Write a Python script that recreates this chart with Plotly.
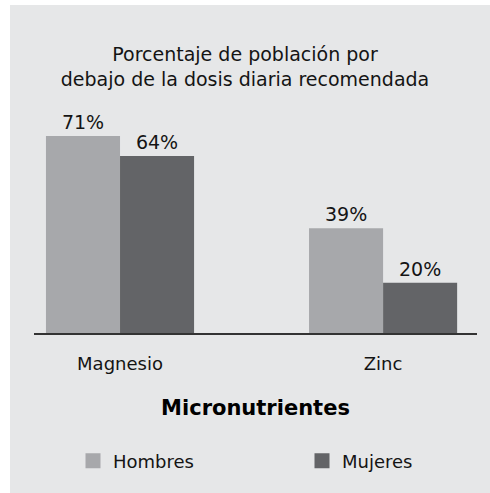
import plotly.graph_objects as go

categories = ["Magnesio", "Zinc"]
hombres = [71, 39]
mujeres = [64, 20]
series_names = ["Hombres", "Mujeres"]
colors = ["#a7a8ab", "#636467"]

W, H = 490, 493
ML, MR, MT, MB = 34, 13, 110, 160
PW = W - ML - MR
PH = H - MT - MB

def px_to_paper_x(px):
    return (px - ML) / PW

def px_to_paper_y(py):
    return (H - MB - py) / PH

FONT = "DejaVu Sans, Verdana, sans-serif"
TXT = "#141414"
FS = 18

fig = go.Figure()
for name, vals, col in zip(series_names, [hombres, mujeres], colors):
    fig.add_trace(go.Bar(
        x=categories, y=vals, name=name, marker_color=col,
        marker_line_width=0,
        text=[f"{v}%" for v in vals], textposition="outside",
        textfont=dict(size=19, color=TXT, family=FONT),
        showlegend=False, cliponaxis=False, hoverinfo="skip",
    ))
# legend entries, one per legend so each can be placed like the reference
legend_ids = ["legend", "legend2"]
for name, col, lg in zip(series_names, colors, legend_ids):
    fig.add_trace(go.Scatter(
        x=[None], y=[None], mode="markers", name=name,
        marker=dict(symbol="square", size=15, color=col),
        showlegend=True, legend=lg,
    ))

fig.add_shape(type="rect", xref="paper", yref="paper",
              x0=px_to_paper_x(10), x1=px_to_paper_x(W + 5),
              y0=px_to_paper_y(5), y1=px_to_paper_y(H + 5),
              fillcolor="#e6e7e8", line_width=0, layer="below")

legend_common = dict(orientation="h", xanchor="left", yref="container",
                     y=1 - 461 / H, yanchor="middle",
                     bgcolor="rgba(0,0,0,0)",
                     font=dict(size=FS, color=TXT, family=FONT))

fig.update_layout(
    width=W, height=H,
    margin=dict(l=ML, r=MR, t=MT, b=MB, pad=0),
    paper_bgcolor="white", plot_bgcolor="rgba(0,0,0,0)",
    font=dict(family=FONT, size=FS, color=TXT),
    barmode="group", bargap=0.437, bargroupgap=0,
    title=dict(text="Porcentaje de población por<br>debajo de la dosis diaria recomendada",
               x=0.5, xanchor="center", y=1 - 61 / H, yanchor="middle",
               yref="container", font=dict(size=19, color=TXT, family=FONT)),
    xaxis=dict(type="category", range=[-0.327, 1.357], showline=True,
               linecolor="#333333", linewidth=2, ticks="", showgrid=False,
               zeroline=False, tickfont=dict(size=FS, color=TXT, family=FONT),
               ticklabelstandoff=13,
               title=dict(text="<b>Micronutrientes</b>", standoff=28,
                          font=dict(size=21, color="#000000", family=FONT))),
    yaxis=dict(range=[2.6, 80], visible=False, showgrid=False, zeroline=False),
    legend=dict(x=px_to_paper_x(73), **legend_common),
    legend2=dict(x=px_to_paper_x(302), **legend_common),
)

fig.write_html("out.html", config={"displayModeBar": False},
               post_script="document.body.style.margin='0';")
